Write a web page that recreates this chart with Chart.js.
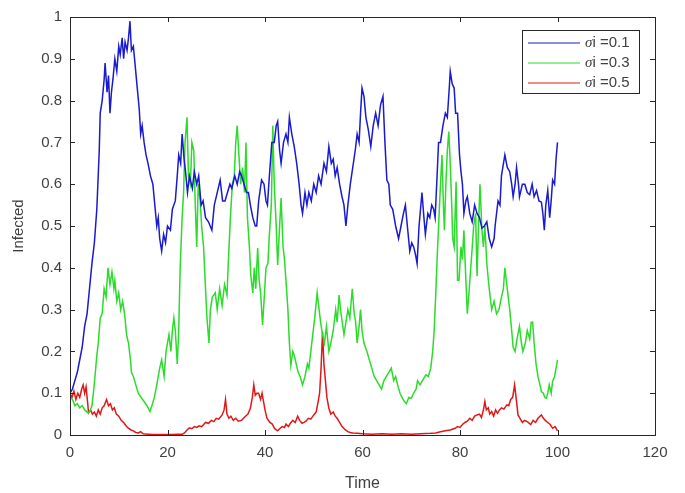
<!DOCTYPE html>
<html>
<head>
<meta charset="utf-8">
<script src="https://cdn.jsdelivr.net/npm/chart.js@4.4.1/dist/chart.umd.min.js"></script>
<style>
  html, body { margin: 0; padding: 0; background: #fff; }
  #wrap { width: 685px; height: 493px; }
</style>
</head>
<body>
<div id="wrap"><canvas id="infChart"></canvas></div>
<script>
// values (time, infected fraction)
const tBlue = [0,0.5,1,1.5,2,2.5,3,3.5,4,4.5,5,5.5,6,6.2,6.6,7,7.2,7.6,7.9,8.2,8.5,8.8,9.2,9.6,10,10.3,10.7,11,11.3,11.7,12,12.3,12.6,13,13.4,13.8,14.2,14.5,14.8,15.2,15.6,16,16.5,17,17.4,17.8,18.1,18.4,18.8,19.2,19.6,20,20.6,21,21.6,22,22.3,22.7,23,23.4,23.7,24.1,24.5,25.1,25.5,26,26.4,26.9,27.3,27.8,28.4,29.1,29.6,30.2,30.8,31.3,31.8,32.3,32.8,33.2,33.8,34.3,34.8,35.2,35.7,36.2,36.6,37,37.5,38,38.3,38.7,39.3,39.8,40.2,40.5,40.9,41.4,41.9,42.3,42.6,43,43.3,43.8,44.3,44.7,45,45.5,46,46.5,47,47.4,47.7,48.2,48.6,49,49.5,50,50.5,51,51.5,52.1,52.6,53.1,53.6,54,54.4,54.8,55.3,55.8,56.2,56.6,57,57.5,58,58.5,58.9,59.3,59.6,59.9,60.3,60.7,61.2,61.7,62.2,62.7,63.2,63.7,64.2,64.6,65,65.4,65.7,66.2,66.8,67.4,67.9,68.4,68.8,69.2,69.7,70.1,70.5,70.9,71.2,71.6,72.2,72.6,72.9,73.4,73.8,74.2,74.6,74.9,75.3,75.6,76,76.5,77,77.4,77.8,78,78.4,78.8,79.1,79.5,79.9,80.2,80.5,80.8,81.2,81.5,82,82.5,83,83.5,84,84.5,85,85.5,86,86.5,87,87.2,87.8,88.2,88.5,89.2,89.7,90.2,90.6,90.9,91.3,91.6,92,92.2,92.8,93.3,93.8,94.3,94.8,95.2,95.7,96.2,96.7,97,97.3,97.6,98,98.4,98.7,99,99.4,99.7,100];
const vBlue = [0.10,0.11,0.13,0.15,0.18,0.21,0.26,0.29,0.35,0.41,0.46,0.54,0.68,0.77,0.8,0.85,0.89,0.82,0.86,0.77,0.82,0.85,0.90,0.87,0.93,0.91,0.95,0.9,0.94,0.92,0.95,0.99,0.92,0.93,0.88,0.83,0.78,0.72,0.74,0.7,0.67,0.65,0.62,0.6,0.55,0.5,0.52,0.47,0.44,0.48,0.46,0.5,0.49,0.54,0.56,0.62,0.67,0.65,0.72,0.66,0.63,0.58,0.62,0.59,0.63,0.6,0.62,0.55,0.56,0.52,0.51,0.49,0.55,0.58,0.61,0.56,0.56,0.58,0.6,0.59,0.62,0.6,0.63,0.62,0.6,0.58,0.58,0.55,0.52,0.5,0.5,0.56,0.61,0.6,0.56,0.55,0.62,0.7,0.7,0.74,0.75,0.68,0.65,0.7,0.72,0.7,0.76,0.72,0.69,0.65,0.6,0.55,0.53,0.58,0.55,0.58,0.56,0.6,0.58,0.62,0.6,0.65,0.63,0.69,0.65,0.66,0.62,0.64,0.6,0.57,0.55,0.5,0.55,0.6,0.64,0.68,0.72,0.7,0.77,0.83,0.81,0.76,0.73,0.69,0.74,0.77,0.74,0.79,0.81,0.7,0.61,0.6,0.55,0.54,0.5,0.47,0.5,0.53,0.55,0.5,0.44,0.46,0.45,0.43,0.41,0.5,0.58,0.52,0.48,0.53,0.52,0.55,0.54,0.52,0.62,0.7,0.7,0.74,0.77,0.76,0.83,0.87,0.84,0.83,0.77,0.77,0.67,0.63,0.6,0.53,0.56,0.57,0.53,0.51,0.55,0.53,0.52,0.495,0.5,0.51,0.47,0.45,0.47,0.5,0.56,0.55,0.62,0.67,0.64,0.63,0.6,0.57,0.6,0.64,0.6,0.57,0.6,0.6,0.58,0.575,0.6,0.57,0.585,0.56,0.557,0.53,0.49,0.55,0.585,0.52,0.56,0.61,0.6,0.66,0.7];

const tGreen = [0,0.5,1,1.5,2,2.5,3,3.5,3.8,4.2,4.5,4.8,5.2,5.5,5.8,6.2,6.6,7,7.4,7.8,8.2,8.6,9,9.2,9.6,10,10.4,10.8,11.2,11.6,12,12.4,12.6,13,13.5,14,14.7,15.2,15.8,16.4,16.8,17.3,17.8,18.4,18.8,19.3,19.7,20.3,20.7,21,21.3,21.6,22,22.3,22.6,23,23.3,23.6,24,24.3,24.7,25,25.4,25.7,26,26.3,26.7,27,27.4,27.8,28.1,28.5,28.8,29.2,29.8,30.2,30.7,31.2,31.7,32.2,32.5,32.9,33.3,33.7,34,34.3,34.7,35,35.4,35.8,36.1,36.4,36.8,37.1,37.5,37.8,38.1,38.5,38.8,39.1,39.5,39.8,40.2,40.6,40.9,41.3,41.6,41.9,42.3,42.6,43,43.3,43.7,44,44.3,44.7,45,45.3,45.7,46,46.4,46.8,47.2,47.7,48.2,48.7,49,49.4,49.8,50.2,50.7,51.1,51.4,51.8,52.2,52.6,53.1,53.5,54,54.5,54.8,55.2,55.6,56.2,56.6,57,57.4,57.9,58.3,58.6,58.9,59.3,59.6,59.9,60.3,60.9,61.4,61.9,62.4,62.9,63.4,63.9,64.4,64.9,65.4,65.9,66.4,66.8,67.2,67.7,68.1,68.6,69,69.5,70,70.5,71,71.3,71.8,72.3,73,73.5,74,74.4,74.7,75,75.4,75.8,76,76.3,76.6,76.8,77.1,77.4,77.7,78,78.3,78.5,78.8,79.2,79.5,79.8,80.2,80.5,80.8,81.1,81.5,81.9,82.2,82.5,82.8,83.2,83.5,83.8,84.1,84.5,84.8,85.1,85.5,85.9,86.2,86.5,87,87.5,88,88.5,88.9,89.2,89.6,89.9,90.2,90.6,90.9,91.3,91.7,92.2,92.6,92.9,93.4,93.8,94.3,94.6,94.9,95.2,95.6,96,96.4,96.7,97.1,97.4,97.7,98,98.3,98.7,99,99.4,99.7,100];
const vGreen = [0.09,0.085,0.07,0.075,0.065,0.07,0.06,0.055,0.053,0.06,0.07,0.1,0.15,0.19,0.22,0.28,0.29,0.35,0.33,0.40,0.36,0.39,0.35,0.37,0.32,0.34,0.3,0.32,0.29,0.24,0.22,0.18,0.15,0.14,0.12,0.1,0.088,0.08,0.07,0.056,0.07,0.09,0.12,0.16,0.18,0.14,0.2,0.24,0.2,0.25,0.28,0.25,0.17,0.25,0.4,0.52,0.58,0.7,0.76,0.62,0.6,0.7,0.68,0.55,0.45,0.6,0.56,0.5,0.45,0.35,0.28,0.22,0.3,0.33,0.34,0.3,0.35,0.31,0.36,0.335,0.42,0.52,0.6,0.62,0.7,0.74,0.66,0.6,0.64,0.58,0.7,0.52,0.45,0.38,0.34,0.4,0.35,0.447,0.37,0.34,0.263,0.32,0.4,0.41,0.48,0.55,0.74,0.6,0.5,0.407,0.5,0.567,0.45,0.42,0.37,0.3,0.22,0.167,0.2,0.19,0.17,0.15,0.14,0.12,0.14,0.17,0.16,0.2,0.24,0.28,0.34,0.3,0.27,0.24,0.22,0.26,0.2,0.22,0.25,0.3,0.27,0.335,0.29,0.24,0.27,0.3,0.28,0.35,0.29,0.27,0.22,0.26,0.3,0.25,0.22,0.2,0.18,0.16,0.14,0.13,0.12,0.11,0.13,0.14,0.15,0.16,0.13,0.14,0.12,0.1,0.09,0.08,0.075,0.09,0.088,0.1,0.11,0.13,0.12,0.13,0.144,0.14,0.16,0.2,0.25,0.33,0.447,0.55,0.6,0.67,0.55,0.49,0.6,0.68,0.726,0.65,0.55,0.47,0.45,0.606,0.37,0.37,0.45,0.42,0.49,0.4,0.29,0.35,0.4,0.447,0.5,0.53,0.38,0.5,0.6,0.49,0.45,0.5,0.41,0.36,0.33,0.3,0.32,0.29,0.3,0.33,0.35,0.4,0.36,0.33,0.3,0.25,0.21,0.2,0.23,0.26,0.22,0.2,0.22,0.25,0.23,0.27,0.27,0.22,0.17,0.14,0.12,0.104,0.1,0.09,0.088,0.1,0.12,0.1,0.128,0.14,0.16,0.18];

const tRed = [0,0.4,0.8,1.2,1.6,2,2.4,2.7,3,3.3,3.6,3.8,4.2,4.6,5,5.4,5.8,6.2,6.6,7,7.5,7.9,8.3,8.7,9.1,9.5,10,10.5,11,11.5,11.9,12.5,13,13.5,14,14.5,15,16,17,18,19,20,21,22,23,23.5,24,24.5,25,25.5,26,26.5,27,27.8,28.4,29,29.5,30,30.5,31.2,31.6,31.9,32.2,32.6,33,33.5,34,34.5,35.2,35.6,36,36.5,37,37.4,37.7,38,38.3,38.7,39.1,39.4,39.7,40,40.4,41,41.5,42,42.6,43,43.5,44,44.3,44.8,45.2,45.7,46.2,46.7,47.1,47.6,48,48.4,48.9,49.4,50,50.5,50.9,51.2,51.5,51.8,52.1,52.4,52.7,53.1,53.5,54,54.4,54.8,55.3,55.8,56.5,57,57.5,58,59,60,62,64,66,68,70,72,74,75,76,77,78,79,79.5,80,80.5,81,81.5,82,82.5,83,83.5,84,84.4,84.8,85.1,85.4,85.8,86.1,86.5,86.9,87.3,87.7,88.1,88.5,89,89.6,90,90.4,90.8,91.2,91.5,91.9,92.3,92.8,93.2,93.6,94,94.5,95,95.5,96,96.4,96.7,97.1,97.5,98,98.5,99,99.5,100];
const vRed = [0.1,0.09,0.105,0.085,0.1,0.09,0.11,0.12,0.1,0.115,0.08,0.053,0.06,0.05,0.055,0.045,0.06,0.05,0.065,0.07,0.085,0.07,0.075,0.06,0.065,0.05,0.045,0.035,0.03,0.022,0.017,0.012,0.01,0.006,0.005,0.008,0.003,0.002,0.001,0.001,0.001,0.001,0.001,0.002,0.002,0.005,0.012,0.017,0.015,0.02,0.018,0.022,0.02,0.03,0.028,0.035,0.032,0.04,0.038,0.048,0.06,0.085,0.05,0.04,0.045,0.035,0.04,0.033,0.035,0.04,0.045,0.05,0.064,0.09,0.12,0.095,0.1,0.1,0.085,0.1,0.08,0.06,0.04,0.03,0.026,0.015,0.01,0.015,0.02,0.018,0.026,0.02,0.028,0.035,0.03,0.045,0.035,0.028,0.03,0.033,0.04,0.038,0.048,0.055,0.08,0.1,0.16,0.247,0.167,0.13,0.09,0.064,0.05,0.055,0.045,0.04,0.03,0.02,0.012,0.008,0.006,0.005,0.004,0.003,0.002,0.003,0.002,0.003,0.002,0.003,0.004,0.005,0.008,0.01,0.012,0.016,0.02,0.018,0.025,0.03,0.033,0.04,0.035,0.045,0.048,0.05,0.042,0.06,0.08,0.06,0.065,0.05,0.056,0.045,0.06,0.052,0.06,0.065,0.062,0.072,0.07,0.085,0.09,0.12,0.09,0.048,0.04,0.03,0.035,0.033,0.03,0.025,0.035,0.03,0.04,0.045,0.048,0.04,0.035,0.03,0.025,0.016,0.02,0.01];

const seriesLabels = ['\u03c3i =0.1', '\u03c3i =0.3', '\u03c3i =0.5'];
const seriesColors = ['#1a1ad0', '#2bdc2b', '#e01818'];
const xTicks = [0, 20, 40, 60, 80, 100, 120];
const yTicks = [0, 0.1, 0.2, 0.3, 0.4, 0.5, 0.6, 0.7, 0.8, 0.9, 1];

const textColor = '#404040';
const frameColor = '#262626';

function toPoints(ts, vs) {
    return ts.map((t, i) => ({x: t, y: vs[i]}));
}

// matlab style box, inward ticks and legend in the top right corner
const matlabBox = {
    id: 'matlabBox',
    afterDatasetsDraw(chart) {
        const {ctx, chartArea: a, scales} = chart;
        ctx.save();
        ctx.strokeStyle = frameColor;
        ctx.lineWidth = 1;
        ctx.strokeRect(a.left + 0.5, a.top + 0.5, a.right - a.left, a.bottom - a.top);
        ctx.beginPath();
        xTicks.forEach(v => {
            const px = Math.round(scales.x.getPixelForValue(v)) + 0.5;
            ctx.moveTo(px, a.bottom); ctx.lineTo(px, a.bottom - 5);
            ctx.moveTo(px, a.top); ctx.lineTo(px, a.top + 5);
        });
        yTicks.forEach(v => {
            const py = Math.round(scales.y.getPixelForValue(v)) + 0.5;
            ctx.moveTo(a.left, py); ctx.lineTo(a.left + 5, py);
            ctx.moveTo(a.right, py); ctx.lineTo(a.right - 5, py);
        });
        ctx.stroke();

        // legend
        const lx = 522.5, ly = 30.5, lw = 117, lh = 63;
        ctx.fillStyle = '#fff';
        ctx.fillRect(lx, ly, lw, lh);
        ctx.strokeRect(lx, ly, lw, lh);
        chart.data.datasets.forEach((ds, i) => {
            const y = 43 + i * 20;
            ctx.strokeStyle = ds.borderColor;
            ctx.lineWidth = 1.2;
            ctx.beginPath();
            ctx.moveTo(528, y); ctx.lineTo(580, y);
            ctx.stroke();
            ctx.fillStyle = textColor;
            ctx.textBaseline = 'middle';
            ctx.font = 'italic 15px "Liberation Serif", serif';
            ctx.fillText(ds.label.charAt(0), 585, y);
            const w = ctx.measureText(ds.label.charAt(0)).width;
            ctx.font = '15px "Liberation Sans", Arial, sans-serif';
            ctx.fillText(ds.label.slice(1), 585 + w, y);
        });
        ctx.restore();
    }
};

document.addEventListener("DOMContentLoaded", function() {
    const ctx = document.getElementById('infChart').getContext('2d');
    new Chart(ctx, {
        type: 'line',
        data: {
            datasets: [
                { label: seriesLabels[0], data: toPoints(tBlue, vBlue), borderColor: seriesColors[0] },
                { label: seriesLabels[1], data: toPoints(tGreen, vGreen), borderColor: seriesColors[1] },
                { label: seriesLabels[2], data: toPoints(tRed, vRed), borderColor: seriesColors[2] }
            ]
        },
        options: {
            responsive: true,
            maintainAspectRatio: false,
            animation: false,
            layout: { padding: { top: 17, right: 30, left: 0, bottom: 0 } },
            elements: {
                point: { radius: 0 },
                line: { borderWidth: 1.5, tension: 0 }
            },
            plugins: {
                legend: { display: false },
                tooltip: { enabled: false }
            },
            scales: {
                x: {
                    type: 'linear',
                    min: 0, max: 120,
                    afterBuildTicks: s => { s.ticks = xTicks.map(v => ({value: v})); },
                    afterFit: s => { s.height = 58; },
                    grid: { display: false, drawTicks: false },
                    border: { display: false },
                    ticks: { color: textColor, padding: 9, font: { size: 15, family: '"Liberation Sans", Arial, sans-serif' }, maxRotation: 0 },
                    title: { display: true, text: 'Time', color: textColor, padding: { top: 6, bottom: 0 }, font: { size: 16, family: '"Liberation Sans", Arial, sans-serif' } }
                },
                y: {
                    min: 0, max: 1,
                    afterBuildTicks: s => { s.ticks = yTicks.map(v => ({value: v})); },
                    afterFit: s => { s.width = 70; },
                    grid: { display: false, drawTicks: false },
                    border: { display: false },
                    ticks: { color: textColor, padding: 8, font: { size: 15, family: '"Liberation Sans", Arial, sans-serif' }, callback: v => +v.toFixed(1) },
                    title: { display: true, text: 'Infected', color: textColor, padding: { top: 10, bottom: 0 }, font: { size: 15, family: '"Liberation Sans", Arial, sans-serif' } }
                }
            }
        },
        plugins: [matlabBox]
    });
});
</script>
</body>
</html>
